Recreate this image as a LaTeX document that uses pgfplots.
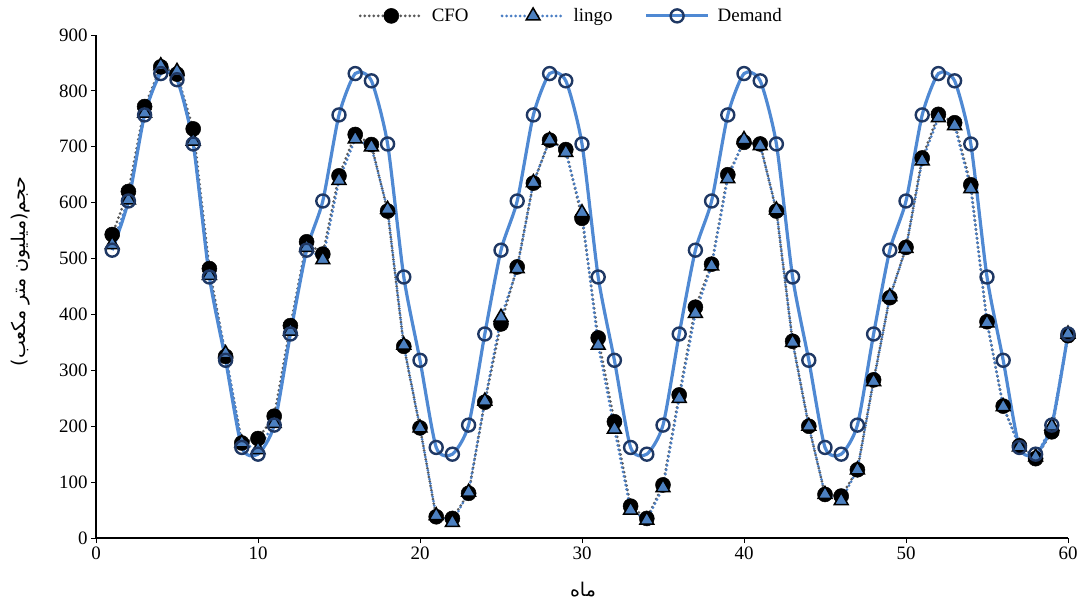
\documentclass[border=0pt]{standalone}
\usepackage{pgfplots}
\pgfplotsset{compat=1.18}
\usepackage{fontspec}
\setmainfont{Liberation Serif}
\newfontfamily\arabicfont[Script=Arabic]{DejaVu Sans}
\TeXXeTstate=1
\definecolor{demandline}{RGB}{79,137,211}
\definecolor{demandmark}{RGB}{31,56,100}
\definecolor{lingoline}{RGB}{74,126,196}
\definecolor{lingofill}{RGB}{76,128,192}
\definecolor{cfoline}{RGB}{89,89,89}
\begin{document}
\begin{tikzpicture}
\useasboundingbox (0,0) rectangle (1081bp,603bp);
\begin{axis}[
  at={(96bp,65bp)}, anchor=south west,
  scale only axis, width=972bp, height=503bp,
  xmin=0, xmax=60, ymin=0, ymax=900,
  xtick={0,10,...,60}, ytick={0,100,...,900},
  axis x line=bottom, axis y line=left,
  axis line style={line width=1.5bp,-},
  tick align=outside, tick style={line width=1bp, black},
  major tick length=5bp,
  every tick label/.append style={font=\fontsize{19}{21}\selectfont},
  /pgf/number format/assume math mode=true,
  xlabel={\arabicfont\fontsize{19}{22}\selectfont\beginR ماه\endR},
  xlabel style={at={(axis description cs:0.501,-0.103)}, anchor=center},
  ylabel={\arabicfont\fontsize{19}{22}\selectfont\beginR حجم(میلیون متر مکعب)\endR},
  ylabel style={at={(axis description cs:-0.078,0.53)}, anchor=center},
  legend style={at={(axis description cs:0.489,1.038)}, anchor=center, draw=none,
    font=\fontsize{19}{21}\selectfont, legend columns=3,
    /tikz/every even column/.append style={column sep=30bp},
    /tikz/every odd column/.append style={column sep=6bp},
    inner sep=0pt},
  legend image code/.code={\draw[mark repeat=2,mark phase=2,#1] plot coordinates {(0bp,0bp) (31bp,0bp) (62bp,0bp)};},
  clip=false,
]
\addplot[color=cfoline, line width=3bp, dash pattern=on 0bp off 4.5bp, line cap=round, mark=*, mark size=7.5bp,
  mark options={solid, fill=black, draw=black, line width=0.5bp}] coordinates {
(1,543)(2,620)(3,772)(4,843)(5,830)(6,732)(7,482)(8,325)(9,170)(10,178)(11,218)(12,380)
(13,530)(14,508)(15,648)(16,722)(17,704)(18,585)(19,343)(20,197)(21,38)(22,35)(23,80)(24,243)
(25,383)(26,485)(27,635)(28,712)(29,695)(30,572)(31,358)(32,208)(33,57)(34,35)(35,95)(36,256)
(37,413)(38,490)(39,650)(40,708)(41,705)(42,585)(43,352)(44,200)(45,78)(46,75)(47,122)(48,283)
(49,430)(50,520)(51,680)(52,758)(53,743)(54,632)(55,387)(56,236)(57,165)(58,142)(59,190)(60,362)
};
\addlegendentry{CFO}
\addplot[color=lingoline, line width=3bp, dash pattern=on 0bp off 4.5bp, line cap=round, mark=triangle*, mark size=8bp,
  mark options={solid, fill=lingofill, draw=black, line width=1.5bp}] coordinates {
(1,525)(2,605)(3,760)(4,845)(5,835)(6,710)(7,470)(8,330)(9,170)(10,158)(11,205)(12,370)
(13,520)(14,498)(15,640)(16,714)(17,700)(18,588)(19,345)(20,197)(21,40)(22,28)(23,82)(24,245)
(25,395)(26,482)(27,636)(28,712)(29,690)(30,582)(31,345)(32,195)(33,50)(34,32)(35,90)(36,250)
(37,402)(38,487)(39,643)(40,713)(41,702)(42,587)(43,350)(44,200)(45,78)(46,67)(47,122)(48,280)
(49,432)(50,518)(51,675)(52,752)(53,738)(54,625)(55,385)(56,235)(57,163)(58,145)(59,200)(60,365)
};
\addlegendentry{lingo}
\addplot[color=demandline, line width=3.2bp, smooth, tension=0.4, mark=o, mark size=6.5bp,
  mark options={solid, draw=demandmark, fill=white, line width=2.4bp}] coordinates {
(1,515)(2,603)(3,757)(4,831)(5,820)(6,705)(7,467)(8,318)(9,162)(10,150)(11,202)(12,365)
(13,515)(14,603)(15,757)(16,831)(17,818)(18,705)(19,467)(20,318)(21,162)(22,150)(23,202)(24,365)
(25,515)(26,603)(27,757)(28,831)(29,818)(30,705)(31,467)(32,318)(33,162)(34,150)(35,202)(36,365)
(37,515)(38,603)(39,757)(40,831)(41,818)(42,705)(43,467)(44,318)(45,162)(46,150)(47,202)(48,365)
(49,515)(50,603)(51,757)(52,831)(53,818)(54,705)(55,467)(56,318)(57,162)(58,150)(59,202)(60,365)
};
\addlegendentry{Demand}
\end{axis}
\end{tikzpicture}
\end{document}
